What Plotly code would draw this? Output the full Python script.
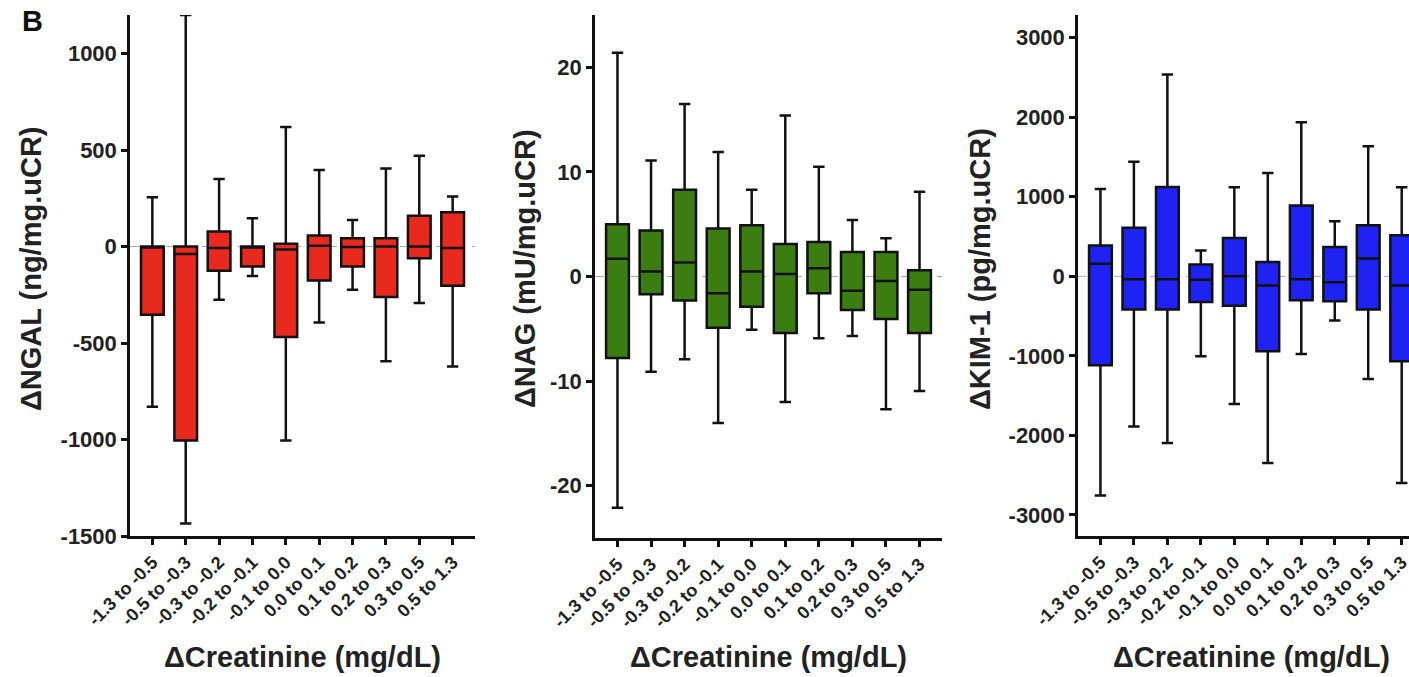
import plotly.graph_objects as go

categories = ["-1.3 to -0.5", "-0.5 to -0.3", "-0.3 to -0.2", "-0.2 to -0.1", "-0.1 to 0.0",
              "0.0 to 0.1", "0.1 to 0.2", "0.2 to 0.3", "0.3 to 0.5", "0.5 to 1.3"]

# NGAL (ng/mg.uCR)
ngal_low = [-830, -1435, -276, -153, -1005, -393, -224, -595, -293, -621]
ngal_q1 = [-353, -1005, -126, -103, -469, -176, -103, -262, -60, -203]
ngal_med = [0, -38, -8, -3, -15, 4, -2, 0, 0, -8]
ngal_q3 = [0, 0, 78, 0, 15, 57, 43, 43, 160, 178]
ngal_high = [255, 1200, 350, 147, 620, 397, 138, 405, 471, 259]
ngal_ticks = [-1500, -1000, -500, 0, 500, 1000]
ngal_ticktext = ["-1500", "-1000", "-500", "0", "500", "1000"]

# NAG (mU/mg.uCR)
nag_low = [-22.1, -9.1, -7.9, -14.0, -5.1, -12.0, -5.9, -5.7, -12.7, -10.95]
nag_q1 = [-7.8, -1.7, -2.3, -4.9, -2.9, -5.4, -1.6, -3.2, -4.07, -5.4]
nag_med = [1.7, 0.47, 1.33, -1.6, 0.47, 0.25, 0.79, -1.37, -0.42, -1.27]
nag_q3 = [5.0, 4.4, 8.3, 4.6, 4.9, 3.1, 3.3, 2.35, 2.35, 0.6]
nag_high = [21.4, 11.1, 16.5, 11.9, 8.3, 15.4, 10.5, 5.4, 3.65, 8.1]
nag_ticks = [-20, -10, 0, 10, 20]
nag_ticktext = ["-20", "-10", "0", "10", "20"]

# KIM-1 (pg/mg.uCR)
kim_low = [-2755, -1887, -2096, -1006, -1606, -2348, -977, -557, -1291, -2599]
kim_q1 = [-1119, -419, -419, -322, -369, -943, -302, -314, -419, -1069]
kim_med = [158, -38, -38, -42, 0, -117, -38, -75, 223, -117]
kim_q3 = [386, 609, 1124, 147, 483, 181, 889, 369, 642, 516]
kim_high = [1099, 1439, 2537, 323, 1119, 1300, 1937, 692, 1635, 1119]
kim_ticks = [-3000, -2000, -1000, 0, 1000, 2000, 3000]
kim_ticktext = ["-3000", "-2000", "-1000", "0", "1000", "2000", "3000"]

W, H = 1409, 677
FONT = "Arial, Liberation Sans, sans-serif"

panels = [
    dict(low=ngal_low, q1=ngal_q1, med=ngal_med, q3=ngal_q3, high=ngal_high,
         color="#E8291E", title="ΔNGAL (ng/mg.uCR)", yrange=[-1500, 1200],
         tv=ngal_ticks, tt=ngal_ticktext,
         xpx=(130, 475), ypx=(15, 536), ytitle_x=31),
    dict(low=nag_low, q1=nag_q1, med=nag_med, q3=nag_q3, high=nag_high,
         color="#3B7D10", title="ΔNAG (mU/mg.uCR)", yrange=[-25, 25],
         tv=nag_ticks, tt=nag_ticktext,
         xpx=(595, 942), ypx=(15, 538), ytitle_x=525),
    dict(low=kim_low, q1=kim_q1, med=kim_med, q3=kim_q3, high=kim_high,
         color="#1E22F2", title="ΔKIM-1 (pg/mg.uCR)", yrange=[-3265, 3285],
         tv=kim_ticks, tt=kim_ticktext,
         xpx=(1078, 1409), ypx=(15, 536), ytitle_x=980),
]

fig = go.Figure()
annotations = []
shapes = []
for i, p in enumerate(panels):
    n = "" if i == 0 else str(i + 1)
    xa, ya = "x" + n, "y" + n
    fig.add_trace(go.Box(
        x=categories, q1=p["q1"], median=p["med"], q3=p["q3"],
        lowerfence=p["low"], upperfence=p["high"],
        fillcolor=p["color"], line=dict(color="#111111", width=2.5),
        whiskerwidth=0.5, width=0.68, boxpoints=False, showlegend=False,
        xaxis=xa, yaxis=ya,
    ))
    x0, x1 = p["xpx"][0] / W, min(p["xpx"][1] / W, 1.0)
    y0, y1 = 1 - p["ypx"][1] / H, 1 - p["ypx"][0] / H
    xr = [-0.67, 9.67] if i < 2 else [-0.67, 9.0 + (1409 - 1401.7) / 33.5]
    axis_common = dict(showline=True, linecolor="#111111", linewidth=2.5, ticks="outside",
                       ticklen=6, tickwidth=2.5, tickcolor="#111111", showgrid=False,
                       zeroline=False, mirror=False, automargin=False)
    fig.update_layout(**{
        ("xaxis" + n): dict(domain=[x0, x1], anchor=ya, type="category", range=xr,
                            tickangle=-45,
                            tickfont=dict(family=FONT, size=18, color="#222222", weight="bold"),
                            **axis_common),
        ("yaxis" + n): dict(domain=[y0, y1], anchor=xa, range=p["yrange"],
                            tickmode="array", tickvals=p["tv"], ticktext=p["tt"],
                            tickfont=dict(family=FONT, size=22, color="#222222", weight="bold"),
                            **axis_common),
    })
    shapes.append(dict(type="line", xref=xa + " domain", yref=ya, x0=0, x1=1, y0=0, y1=0,
                       line=dict(color="#AAAAAA", width=1, dash="dash"), layer="below"))
    annotations.append(dict(text=p["title"], xref="paper", yref="paper",
                            x=p["ytitle_x"] / W, y=1 - 269 / H, textangle=-90, showarrow=False,
                            xanchor="center", yanchor="middle",
                            font=dict(family=FONT, size=29, color="#222222", weight="bold")))
    cx = (p["xpx"][0] + p["xpx"][1]) / 2 if i < 2 else (p["xpx"][0] + 1424) / 2
    annotations.append(dict(text="ΔCreatinine (mg/dL)", xref="paper", yref="paper",
                            x=cx / W, y=1 - 657 / H, showarrow=False,
                            xanchor="center", yanchor="middle",
                            font=dict(family=FONT, size=29, color="#222222", weight="bold")))

annotations.append(dict(text="B", xref="paper", yref="paper", x=32 / W, y=1 - 21 / H,
                        showarrow=False, xanchor="center", yanchor="middle",
                        font=dict(family=FONT, size=29, color="#111111", weight="bold")))

fig.update_layout(width=W, height=H, margin=dict(l=0, r=0, t=0, b=0, autoexpand=False),
                  paper_bgcolor="white", plot_bgcolor="white",
                  annotations=annotations, shapes=shapes)

fig.write_html("out.html")
